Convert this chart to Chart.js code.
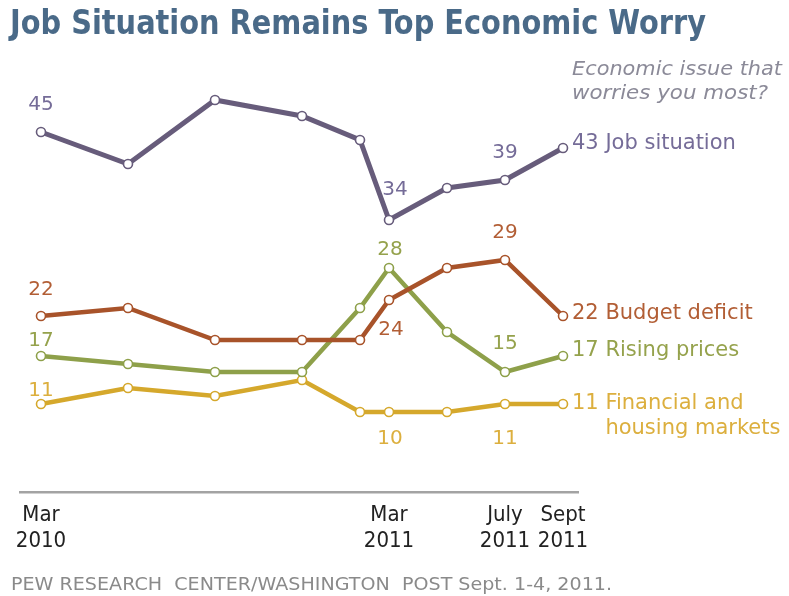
<!DOCTYPE html>
<html>
<head>
<meta charset="utf-8">
<title>Job Situation Remains Top Economic Worry</title>
<script src="https://cdn.jsdelivr.net/npm/chart.js@4.4.1/dist/chart.umd.min.js"></script>
<style>
  html, body { margin: 0; padding: 0; background: #fff; }
  canvas { display: block; }
</style>
</head>
<body>
<canvas id="worry" width="789" height="596"></canvas>
<script>
// survey dates as months since March 2010
const months = [0, 3, 6, 9, 11, 12, 14, 16, 18];

const jobSituation = [45, 41, 49, 47, 44, 34, 38, 39, 43];
const budgetDeficit = [22, 23, 19, 19, 19, 24, 28, 29, 22];
const risingPrices = [17, 16, 15, 15, 23, 28, 20, 15, 17];
const financialHousing = [11, 13, 12, 14, 10, 10, 10, 11, 11];

const seriesNames = ['Job situation', 'Budget deficit', 'Rising prices', ['Financial and', 'housing markets']];

const tickMonths = [0, 12, 16, 18];
const tickLabels = [['Mar', '2010'], ['Mar', '2011'], ['July', '2011'], ['Sept', '2011']];

// which points get their value printed next to them
const labelledPoints = [0, 5, 7];

const lineColors = ['#675c7b', '#a8532a', '#8ea04a', '#d5a82c'];
const textColors = ['#756c98', '#b25e35', '#95a24c', '#dcaf3e'];

// label offsets from the point (x, baseline y), per series, per labelled point
const valueOffsets = [
    [[0, -22], [6, -25], [0, -22]],
    [[0, -21], [2, 35], [0, -22]],
    [[0, -10], [1, -13], [0, -23]],
    [[0, -8], [1, 32], [0, 40]]
];
// baseline shift of the end-of-line names
const endOffsets = [1, 3, 0, 5];

const allSeries = [jobSituation, budgetDeficit, risingPrices, financialHousing];

const datasets = allSeries.map((values, i) => ({
    label: Array.isArray(seriesNames[i]) ? seriesNames[i].join(' ') : seriesNames[i],
    data: values.map((v, j) => ({ x: months[j], y: v })),
    borderColor: lineColors[i],
    borderWidth: i === 0 ? 5 : 4.5,
    pointRadius: 4.5,
    pointBorderWidth: 1.6,
    pointBackgroundColor: '#fff',
    pointBorderColor: lineColors[i],
    tension: 0,
    clip: false
}));

// draws text scaled horizontally to span a given width
function drawFitted(ctx, text, x, y, width) {
    const sx = width / ctx.measureText(text).width;
    ctx.save();
    ctx.translate(x, y);
    ctx.scale(sx, 1);
    ctx.fillText(text, 0, 0);
    ctx.restore();
}

const annotations = {
    id: 'annotations',
    afterDraw(chart) {
        const ctx = chart.ctx;
        ctx.save();

        // title
        ctx.fillStyle = '#4a6a88';
        ctx.font = 'bold 34px "DejaVu Sans Condensed"';
        ctx.textAlign = 'left';
        ctx.textBaseline = 'alphabetic';
        drawFitted(ctx, 'Job Situation Remains Top Economic Worry', 10, 34, 696);

        // question
        ctx.fillStyle = '#8b8a98';
        ctx.font = 'oblique 20px "DejaVu Sans"';
        drawFitted(ctx, 'Economic issue that', 572, 75, 210);
        drawFitted(ctx, 'worries you most?', 572, 99, 196);

        // source line
        ctx.fillStyle = '#8a8a8a';
        ctx.font = '17px "DejaVu Sans"';
        drawFitted(ctx, 'PEW RESEARCH  CENTER/WASHINGTON  POST Sept. 1-4, 2011.', 11, 590, 601);

        // values beside points and names at the line ends
        allSeries.forEach((values, i) => {
            const pts = chart.getDatasetMeta(i).data;
            ctx.fillStyle = textColors[i];

            ctx.font = '20px "DejaVu Sans"';
            ctx.textAlign = 'center';
            labelledPoints.forEach((idx, k) => {
                const [dx, dy] = valueOffsets[i][k];
                ctx.fillText(String(values[idx]), pts[idx].x + dx, pts[idx].y + dy);
            });

            const last = pts[pts.length - 1];
            const names = [].concat(seriesNames[i]);
            ctx.font = '21px "DejaVu Sans"';
            ctx.textAlign = 'left';
            const head = values[values.length - 1] + ' ';
            const y = last.y + endOffsets[i];
            ctx.fillText(head + names[0], last.x + 9, y);
            if (names.length > 1) {
                const indent = ctx.measureText(head).width;
                ctx.fillText(names[1], last.x + 9 + indent, y + 25);
            }
        });

        ctx.restore();
    }
};

new Chart(document.getElementById('worry').getContext('2d'), {
    type: 'line',
    data: { datasets },
    options: {
        responsive: false,
        animation: false,
        events: [],
        layout: { padding: { left: 20, right: 211, top: 52, bottom: 0 } },
        plugins: {
            legend: { display: false },
            tooltip: { enabled: false }
        },
        scales: {
            x: {
                type: 'linear',
                min: -0.724,
                max: 18.517,
                afterBuildTicks: (scale) => {
                    scale.ticks = tickMonths.map(v => ({ value: v }));
                },
                afterFit: (scale) => { scale.height = 104; },
                grid: { display: false, drawTicks: false },
                border: { display: true, color: '#a3a3a3', width: 2.5 },
                ticks: {
                    autoSkip: false,
                    maxRotation: 0,
                    padding: 10,
                    color: '#222',
                    font: { family: '"DejaVu Sans Condensed"', size: 22, lineHeight: 1.2 },
                    callback: (value, index) => tickLabels[index]
                }
            },
            y: { display: false, min: 0, max: 55 }
        }
    },
    plugins: [annotations]
});
</script>
</body>
</html>
